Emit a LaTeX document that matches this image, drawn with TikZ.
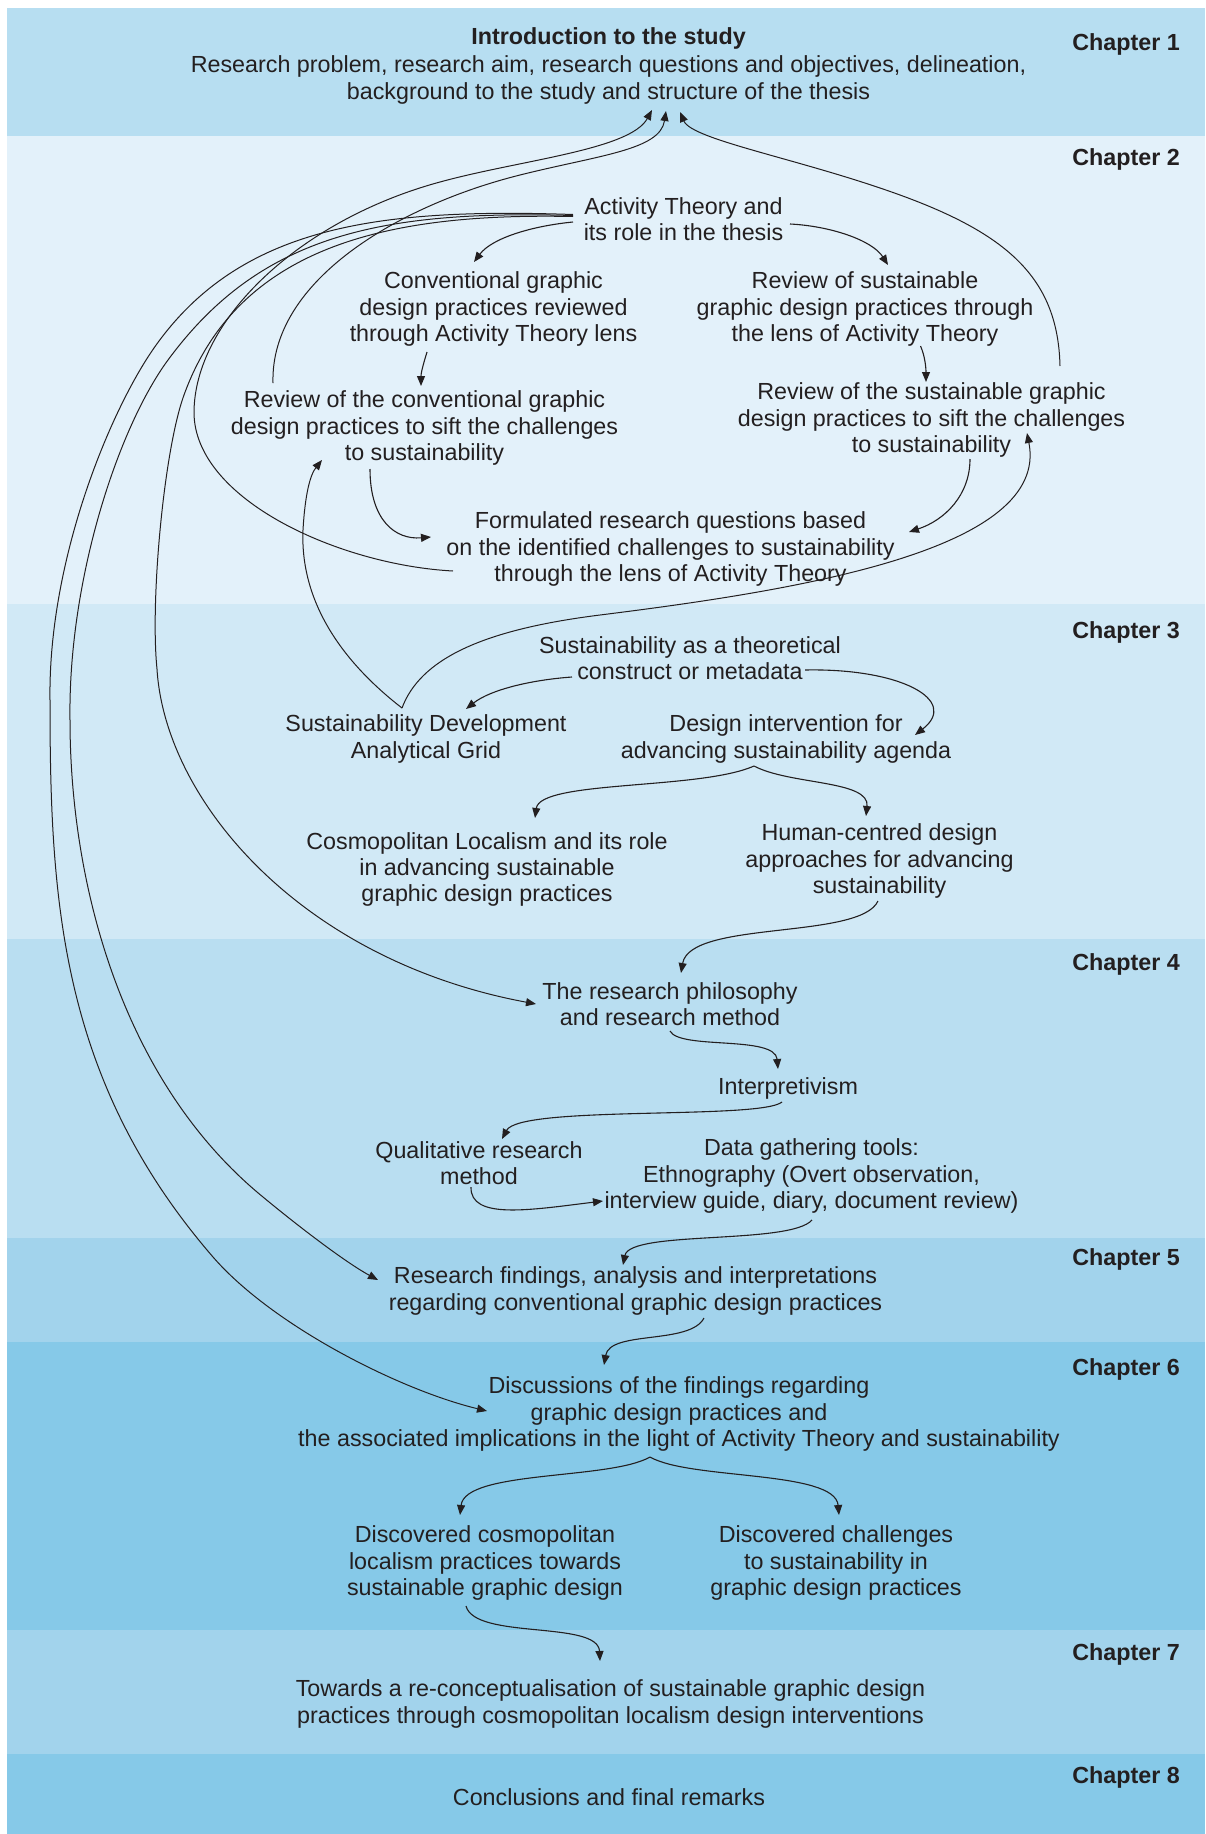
\documentclass[tikz,border=0pt]{standalone}
\usepackage{fontspec}
\setmainfont{Liberation Sans}
\usetikzlibrary{arrows.meta}
\definecolor{ink}{RGB}{35,31,32}
\definecolor{bandA}{RGB}{183,222,241}
\definecolor{bandB}{RGB}{227,241,250}
\definecolor{bandC}{RGB}{209,233,246}
\definecolor{bandD}{RGB}{185,222,241}
\definecolor{bandE}{RGB}{162,211,236}
\definecolor{bandF}{RGB}{134,201,232}
\begin{document}
\begin{tikzpicture}[x=1pt,y=-1pt,
  txt/.style={align=center, inner sep=0pt, text=ink, font=\fontsize{23.3}{26.3}\selectfont},
  chap/.style={anchor=east, inner sep=0pt, text=ink, font=\fontsize{23.3}{26.3}\selectfont\bfseries},
  arr/.style={draw=ink, line width=1.1pt, -{Triangle[length=10pt,width=8pt]}},
  link/.style={draw=ink, line width=1pt, -{Triangle[length=10pt,width=8pt]}},
]
\useasboundingbox (0,0) rectangle (1205,1834);
\fill[white] (0,0) rectangle (1205,1834);

% chapter bands
\fill[bandA] (7,8)    rectangle (1205,136);
\fill[bandB] (7,136)  rectangle (1205,604);
\fill[bandC] (7,604)  rectangle (1205,939);
\fill[bandD] (7,939)  rectangle (1205,1238);
\fill[bandE] (7,1238) rectangle (1205,1342);
\fill[bandF] (7,1342) rectangle (1205,1630);
\fill[bandE] (7,1630) rectangle (1205,1754);
\fill[bandF] (7,1754) rectangle (1205,1834);

% chapter labels
\node[chap] (lab1) at (1180,44)   {Chapter 1};
\node[chap] (lab2) at (1180,159)  {Chapter 2};
\node[chap] (lab3) at (1180,632)  {Chapter 3};
\node[chap] (lab4) at (1180,964)  {Chapter 4};
\node[chap] (lab5) at (1180,1259) {Chapter 5};
\node[chap] (lab6) at (1180,1369) {Chapter 6};
\node[chap] (lab7) at (1180,1654) {Chapter 7};
\node[chap] (lab8) at (1180,1777) {Chapter 8};

% content nodes
\node[txt, font=\fontsize{23.3}{27.5}\selectfont] (intro) at (608.5,66)
  {\textbf{Introduction to the study}\\Research problem, research aim, research questions and objectives, delineation,\\background to the study and structure of the thesis};
\node[txt] (actth) at (683.5,219.5) {Activity Theory and\\its role in the thesis};
\node[txt] (cg)  at (493.5,309) {Conventional graphic\\design practices reviewed\\through Activity Theory lens};
\node[txt] (rs)  at (865,309)   {Review of sustainable\\graphic design practices through\\the lens of Activity Theory};
\node[txt] (rc)  at (424.5,428) {Review of the conventional graphic\\design practices to sift the challenges\\to sustainability};
\node[txt] (rsg) at (931.5,420) {Review of the sustainable graphic\\design practices to sift the challenges\\to sustainability};
\node[txt] (frq) at (670.5,549) {Formulated research questions based\\on the identified challenges to sustainability\\through the lens of Activity Theory};
\node[txt] (sus) at (690,658)   {Sustainability as a theoretical\\construct or metadata};
\node[txt] (sdag) at (426,739)  {Sustainability Development\\Analytical Grid};
\node[txt] (di)  at (786,739)   {Design intervention for\\advancing sustainability agenda};
\node[txt] (cl)  at (487,869.5) {Cosmopolitan Localism and its role\\in advancing sustainable\\graphic design practices};
\node[txt] (hcd) at (879.5,861) {Human-centred design\\approaches for advancing\\sustainability};
\node[txt] (rp)  at (670,1004)  {The research philosophy\\and research method};
\node[txt] (interp) at (788,1088) {Interpretivism};
\node[txt] (qrm) at (479,1163)  {Qualitative research\\method};
\node[txt] (dgt) at (811.5,1176) {Data gathering tools:\\Ethnography (Overt observation,\\interview guide, diary, document review)};
\node[txt] (rf)  at (635.5,1291) {Research findings, analysis and interpretations\\regarding conventional graphic design practices};
\node[txt] (disc) at (679,1414) {Discussions of the findings regarding\\graphic design practices and\\the associated implications in the light of Activity Theory and sustainability};
\node[txt] (dcl) at (485,1563)  {Discovered cosmopolitan\\localism practices towards\\sustainable graphic design};
\node[txt] (dch) at (836,1563)  {Discovered challenges\\to sustainability in\\graphic design practices};
\node[txt] (tow) at (610.5,1704) {Towards a re-conceptualisation of sustainable graphic design\\practices through cosmopolitan localism design interventions};
\node[txt] (concl) at (609,1797) {Conclusions and final remarks};

% chapter 2 connectors
\draw[arr] ([shift={(-110.5,2.5)}]actth.center) .. controls (532,226) and (492,238) .. ([shift={(-19.5,-47)}]cg.center);
\draw[arr] ([shift={(106.5,4.5)}]actth.center) .. controls (830,226) and (872,240) .. ([shift={(23,-44)}]rs.center);
\draw[arr] ([shift={(-66.5,43)}]cg.center) .. controls (424,362) and (421,372) .. ([shift={(-3.5,-42)}]rc.center);
\draw[arr] ([shift={(55.5,37)}]rs.center) .. controls (925,356) and (926,368) .. ([shift={(-5.5,-38)}]rsg.center);
\draw[arr] ([shift={(-54.5,41)}]rc.center) .. controls (370,520) and (395,540) .. ([shift={(-239.5,-12)}]frq.center);
\draw[arr] ([shift={(38.5,39)}]rsg.center) .. controls (970,495) and (945,520) .. ([shift={(238.5,-17)}]frq.center);

% feedback into the introduction
\draw[link] ([shift={(128.5,-54)}]rsg.center) .. controls (1058,280) and (1010,235) .. (900,195)
  .. controls (801,159) and (692,140) .. ([shift={(71.5,46)}]intro.center);
\draw[link] ([shift={(-151.5,-45)}]rc.center) .. controls (270,280) and (400,205) .. (520,175)
  .. controls (600,155) and (660,150) .. ([shift={(57.5,45)}]intro.center);
\draw[link] ([shift={(-217.5,22)}]frq.center) .. controls (340,565) and (195,500) .. (194,413)
  .. controls (194,320) and (300,220) .. (440,182)
  .. controls (520,160) and (630,150) .. ([shift={(43.5,44)}]intro.center);

% Activity Theory sweeps to later chapters
\draw[link] ([shift={(-110.5,-5)}]actth.center) .. controls (380,208) and (240,225) .. (154,348)
  .. controls (110,411) and (48,560) .. (50,700)
  .. controls (50,900) and (60,1080) .. (213,1257)
  .. controls (273,1326) and (400,1390) .. ([shift={(-192,-3)}]disc.center);
\draw[link] ([shift={(-110.5,-4)}]actth.center) .. controls (380,210) and (260,235) .. (168,360)
  .. controls (118,428) and (68,580) .. (70,720)
  .. controls (70,880) and (120,1080) .. (263,1197)
  .. controls (298,1226) and (345,1262) .. ([shift={(-257.5,-11)}]rf.center);
\draw[link] ([shift={(-110.5,-3)}]actth.center) .. controls (400,213) and (240,240) .. (184,395)
  .. controls (164,450) and (150,600) .. (157,669)
  .. controls (165,800) and (300,960) .. ([shift={(-134,0)}]rp.center);

% analytical grid feeding both reviews
\draw[link] ([shift={(-24,-31)}]sdag.center) .. controls (340,660) and (300,600) .. (303,530)
  .. controls (305,495) and (310,475) .. ([shift={(-102.5,32)}]rc.center);
\draw[link] ([shift={(-24,-31)}]sdag.center) .. controls (420,660) and (480,630) .. (600,615)
  .. controls (800,590) and (1050,550) .. ([shift={(95.5,13)}]rsg.center);

% chapters 3 to 7
\draw[arr] ([shift={(-118,19)}]sus.center) .. controls (530,680) and (490,690) .. ([shift={(40,-30)}]sdag.center);
\draw[arr] ([shift={(115,12)}]sus.center) .. controls (900,668) and (960,700) .. ([shift={(129,-4)}]di.center);
\draw[arr] ([shift={(-32,27)}]di.center) .. controls (700,790) and (540,780) .. ([shift={(48,-51.5)}]cl.center);
\draw[arr] ([shift={(-32,27)}]di.center) .. controls (790,785) and (870,780) .. ([shift={(-13.5,-45)}]hcd.center);
\draw[arr] ([shift={(-1.5,40)}]hcd.center) .. controls (860,940) and (690,920) .. ([shift={(11,-31)}]rp.center);
\draw[arr] ([shift={(0,27)}]rp.center) .. controls (680,1050) and (775,1035) .. ([shift={(-10,-19)}]interp.center);
\draw[arr] ([shift={(-6,14)}]interp.center) .. controls (760,1120) and (520,1105) .. ([shift={(23,-24)}]qrm.center);
\draw[arr] ([shift={(-8,24)}]qrm.center) .. controls (470,1220) and (530,1210) .. ([shift={(-208.5,25)}]dgt.center);
\draw[arr] ([shift={(0.5,44)}]dgt.center) .. controls (790,1245) and (630,1230) .. ([shift={(-12.5,-26)}]rf.center);
\draw[arr] ([shift={(68.5,27)}]rf.center) .. controls (690,1345) and (610,1330) .. ([shift={(-75,-49)}]disc.center);
\draw[arr] ([shift={(-29,43)}]disc.center) .. controls (610,1480) and (465,1470) .. ([shift={(-25,-48)}]dcl.center);
\draw[arr] ([shift={(-29,43)}]disc.center) .. controls (690,1480) and (835,1470) .. ([shift={(3,-48)}]dch.center);
\draw[arr] ([shift={(-19,43)}]dcl.center) .. controls (475,1640) and (598,1620) .. ([shift={(-10.5,-43)}]tow.center);
\end{tikzpicture}
\end{document}
